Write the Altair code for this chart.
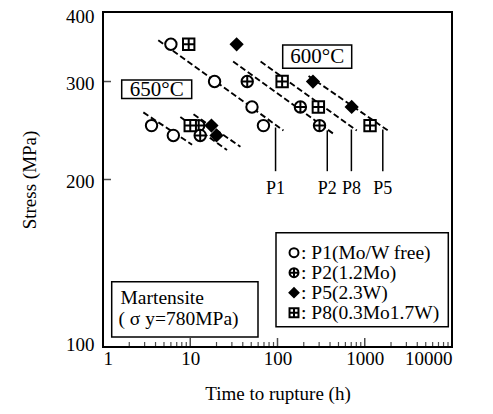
import altair as alt
import pandas as pd

# ---------------- data ----------------
series_labels = [": P1(Mo/W free)", ": P2(1.2Mo)", ": P5(2.3W)", ": P8(0.3Mo1.7W)"]

p1_time = [6, 19, 51, 69, 3.6, 6.4]
p1_stress = [350, 300, 270, 250, 250, 240]
p2_time = [45, 183, 303, 12.5, 13]
p2_stress = [300, 270, 250, 250, 240]
p5_time = [34, 255, 708, 17.5, 20]
p5_stress = [350, 300, 270, 250, 240]
p8_time = [9.6, 113, 294, 1150, 10]
p8_stress = [350, 300, 270, 250, 250]

# dashed trend lines (start / end)
fit_ids = ["600-P1", "600-P2", "600-P8", "600-P5", "650-a", "650-b", "650-c"]
fit_t0 = [4.3, 31, 64, 227, 2.9, 7.7, 10.9]
fit_s0 = [356, 326, 326, 307, 264, 259, 262]
fit_t1 = [117, 440, 810, 1840, 10.5, 26.4, 37.6]
fit_s1 = [245, 241.5, 245, 245, 231, 226, 229]

# leader lines and their labels
leader_names = ["P1", "P2", "P8", "P5"]
leader_time = [95, 372, 703, 1610]
leader_top = [248, 245, 246, 246]
leader_bottom = [207, 207, 207, 207]
leader_label_stress = [192, 192, 192, 192]

x_ticks = [1, 10, 100, 1000, 10000]
y_ticks = [100, 200, 300, 400]
x_minor = [m * 10 ** d for d in range(4) for m in range(2, 10)]

# ---------------- frames ----------------
rows = []
for lab, ts, ss in zip(series_labels, [p1_time, p2_time, p5_time, p8_time],
                       [p1_stress, p2_stress, p5_stress, p8_stress]):
    for t, s in zip(ts, ss):
        rows.append({"series": lab, "t": t, "s": s})
pts = pd.DataFrame(rows)

fit_rows = []
for i, fid in enumerate(fit_ids):
    fit_rows.append({"id": fid, "t": fit_t0[i], "s": fit_s0[i], "o": 0})
    fit_rows.append({"id": fid, "t": fit_t1[i], "s": fit_s1[i], "o": 1})
fits = pd.DataFrame(fit_rows)

leaders = pd.DataFrame({"name": leader_names, "t": leader_time, "top": leader_top,
                        "bottom": leader_bottom, "ls": leader_label_stress})
minor = pd.DataFrame({"t": x_minor})
major = pd.DataFrame({"t": x_ticks})
ymaj = pd.DataFrame({"s": [200, 300]})

W, H = 349, 335
FONT = "Liberation Serif"

xs = alt.Scale(type="log", domain=[1, 10000])
ys = alt.Scale(type="log", domain=[100, 400])

X = alt.X("t:Q", scale=xs,
          axis=alt.Axis(values=x_ticks, format="d", title="Time to rupture (h)",
                        tickSize=0, labelPadding=2, titlePadding=16, domain=False, grid=False))
Y = alt.Y("s:Q", scale=ys,
          axis=alt.Axis(values=y_ticks, format="d", title="Stress (MPa)",
                        labelOffset={"condition": [{"test": "datum.value == 400", "value": 4},
                                                   {"test": "datum.value == 100", "value": -3}],
                                     "value": 2},
                        tickSize=0, labelPadding=9, titlePadding=26, domain=False, grid=False))

circ_cross = "M-1,0A1,1,0,1,1,1,0A1,1,0,1,1,-1,0ZM-1,0L1,0M0,-1L0,1"
sq_cross = "M-1,-1L1,-1L1,1L-1,1ZM-1,0L1,0M0,-1L0,1"
shapes = ["circle", circ_cross, "diamond", sq_cross]
fills = ["white", "white", "black", "white"]
shape_scale = alt.Scale(domain=series_labels, range=shapes)
fill_scale = alt.Scale(domain=series_labels, range=fills)

fit_layer = alt.Chart(fits).mark_line(color="black", strokeWidth=1.9, strokeDash=[6, 3]).encode(
    x=X, y=Y, detail="id:N", order="o:Q")

lead_layer = alt.Chart(leaders).mark_rule(color="black", strokeWidth=1.5).encode(
    x=alt.X("t:Q", scale=xs), y=alt.Y("top:Q", scale=ys), y2="bottom:Q")

lead_text = alt.Chart(leaders).mark_text(font=FONT, fontSize=18, color="black").encode(
    x=alt.X("t:Q", scale=xs), y=alt.Y("ls:Q", scale=ys), text="name:N")

point_layer = alt.Chart(pts).mark_point(filled=True, stroke="black", strokeWidth=2,
                                        opacity=1, size=130).encode(
    x=alt.X("t:Q", scale=xs), y=alt.Y("s:Q", scale=ys),
    shape=alt.Shape("series:N", scale=shape_scale, legend=None),
    fill=alt.Fill("series:N", scale=fill_scale, legend=None),
)

minor_ticks = alt.Chart(minor).mark_tick(color="black", thickness=1.2, size=5).encode(
    x=alt.X("t:Q", scale=xs), y=alt.value(H - 2.5))
major_ticks = alt.Chart(major).mark_tick(color="black", thickness=1.5, size=9).encode(
    x=alt.X("t:Q", scale=xs), y=alt.value(H - 4.5))
y_ticks_layer = alt.Chart(ymaj).mark_tick(color="black", thickness=1.5, size=8, orient="horizontal").encode(
    y=alt.Y("s:Q", scale=ys), x=alt.value(4))

# annotation boxes
box_df = pd.DataFrame({"k": [0]})


def box(x1, y1, x2, y2):
    return alt.Chart(box_df).mark_rect(fill="white", stroke="black", strokeWidth=1.5).encode(
        x=alt.value(x1), x2=alt.value(x2), y=alt.value(y1), y2=alt.value(y2))


def label(txt, x, y, size=20, align="center"):
    return alt.Chart(box_df).mark_text(text=txt, font=FONT, fontSize=size, color="black",
                                       align=align, baseline="middle").encode(
        x=alt.value(x), y=alt.value(y))


def legend_row(i):
    sym = alt.Chart(box_df).mark_point(filled=True, stroke="black", strokeWidth=2, opacity=1,
                                       size=80, shape=shapes[i], fill=fills[i]).encode(
        x=alt.value(191), y=alt.value(240.7 + 20 * i))
    return [sym, label(series_labels[i], 198, 240.7 + 20 * i, 19.5, "left")]


ann = [
    box(18.7, 68, 88.7, 86.5), label("650°C", 53.7, 77.5, 21),
    box(179.7, 33, 248.7, 56.3), label("600°C", 214.2, 44.7, 21),
    box(8.7, 269.7, 155, 325), label("Martensite", 17.5, 286, 19.5, "left"),
    label("( σ y=780MPa)", 15.5, 306.5, 19.5, "left"),
    box(173, 220.7, 345.3, 314.7),
]
leg = [m for i in range(4) for m in legend_row(i)]

chart = alt.layer(
    fit_layer, lead_layer, lead_text, minor_ticks, major_ticks, y_ticks_layer,
    *ann, point_layer, *leg
).properties(
    width=W, height=H,
    autosize=alt.AutoSizeParams(type="none"),
    padding={"left": 95, "top": 4, "right": 33, "bottom": 59},
    background="white",
).configure_view(stroke="black", strokeWidth=2).configure_axis(
    labelFont=FONT, labelFontSize=19, labelColor="black",
    titleFont=FONT, titleFontSize=19, titleColor="black", titleFontWeight="normal",
)

chart.save("out.html", embed_options={"renderer": "svg", "actions": False})
